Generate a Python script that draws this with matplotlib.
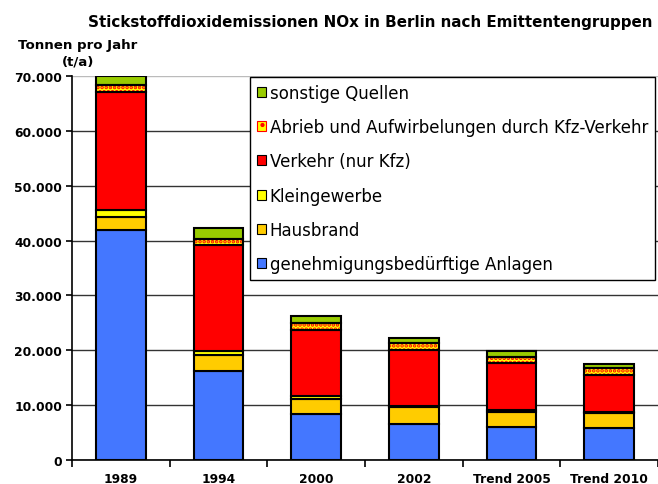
import numpy as np
import matplotlib
matplotlib.use("Agg")
import matplotlib.pyplot as plt
from matplotlib.patches import Patch
from matplotlib.ticker import FuncFormatter, FixedLocator

# data (t/a)
years = ["1989", "1994", "2000", "2002", "Trend 2005", "Trend 2010"]
anlagen = [42000, 16300, 8400, 6600, 6100, 5800]
hausbrand = [2300, 2900, 2800, 3000, 2700, 2700]
kleingewerbe = [1200, 700, 500, 200, 300, 300]
verkehr = [21600, 19300, 12050, 10250, 8600, 6700]
abrieb = [1300, 1100, 1250, 1250, 1000, 1200]
sonstige = [1600, 2000, 1200, 900, 1100, 800]

labels = [
    "genehmigungsbedürftige Anlagen",
    "Hausbrand",
    "Kleingewerbe",
    "Verkehr (nur Kfz)",
    "Abrieb und Aufwirbelungen durch Kfz-Verkehr",
    "sonstige Quellen",
]
colors = ["#4477ff", "#ffcc00", "#ffff00", "#ff0000", "#ffff00", "#99cc00"]
series = [anlagen, hausbrand, kleingewerbe, verkehr, abrieb, sonstige]

plt.rcParams["font.family"] = "DejaVu Sans"
plt.rcParams["hatch.linewidth"] = 1.8

fig = plt.figure(figsize=(6.58, 4.85), dpi=100)
ax = fig.add_axes([72 / 658, 24 / 485, 586 / 658, 384 / 485])

x = np.arange(len(years))
width = 0.51
bottom = np.zeros(len(years))
for vals, col, lab in zip(series, colors, labels):
    vals = np.array(vals, dtype=float)
    if lab.startswith("Abrieb"):
        # yellow with red dots
        ax.bar(x, vals, width, bottom=bottom, color=col, edgecolor="#ff0000",
               hatch="....", linewidth=0, zorder=3)
        ax.bar(x, vals, width, bottom=bottom, fill=False, edgecolor="black",
               linewidth=1.5, zorder=4)
    else:
        ax.bar(x, vals, width, bottom=bottom, color=col, edgecolor="black",
               linewidth=1.5, zorder=3)
    bottom += vals

ax.set_xlim(-0.5, 5.48)
ax.set_ylim(0, 70000)
ax.yaxis.set_major_locator(FixedLocator(np.arange(0, 70001, 10000)))
ax.yaxis.set_major_formatter(
    FuncFormatter(lambda v, p: "0" if v == 0 else f"{int(v):,}".replace(",", ".")))
ax.grid(axis="y", color="#333333", linewidth=1.0, zorder=0)
ax.set_axisbelow(True)
ax.get_ygridlines()[-1].set_color("#bbbbbb")

ax.set_xticks(x)
ax.set_xticklabels(years, fontsize=8.8, fontweight="bold")
ax.tick_params(axis="x", which="major", length=0, pad=9)
ax.set_xticks(np.arange(-0.5, 5.6, 1.0), minor=True)
ax.tick_params(axis="x", which="minor", length=5, width=1.2, direction="out")
ax.tick_params(axis="y", length=4, width=1.2, pad=3, labelsize=8.8)
for t in ax.get_yticklabels():
    t.set_fontweight("bold")

for s in ["top", "right"]:
    ax.spines[s].set_visible(False)
ax.spines["left"].set_linewidth(1.2)
ax.spines["bottom"].set_linewidth(1.2)

# legend, reversed order like the original
handles = []
for col, lab in zip(colors, labels):
    if lab.startswith("Abrieb"):
        handles.append(Patch(facecolor=col, edgecolor="#ff0000", hatch="..",
                             linewidth=0.8, label=lab))
    else:
        handles.append(Patch(facecolor=col, edgecolor="black", linewidth=0.8, label=lab))
leg = ax.legend(handles[::-1], labels[::-1], loc="upper left",
                bbox_to_anchor=(178 / 586, 1 - 1 / 384), fontsize=12,
                handlelength=0.55, handleheight=0.55, handletextpad=0.22,
                labelspacing=0.98, borderpad=0.4, borderaxespad=0,
                fancybox=False, edgecolor="black", framealpha=1)
leg.get_frame().set_linewidth(1.0)

fig.text(370 / 658, 1 - 22 / 485,
         "Stickstoffdioxidemissionen NOx in Berlin nach Emittentengruppen",
         ha="center", va="center", fontsize=10.9, fontweight="bold")
fig.text(78 / 658, 1 - 45 / 485, "Tonnen pro Jahr", ha="center", va="center",
         fontsize=9.6, fontweight="bold")
fig.text(78 / 658, 1 - 62 / 485, "(t/a)", ha="center", va="center",
         fontsize=9.6, fontweight="bold")

fig.savefig("out.png", dpi=100)
